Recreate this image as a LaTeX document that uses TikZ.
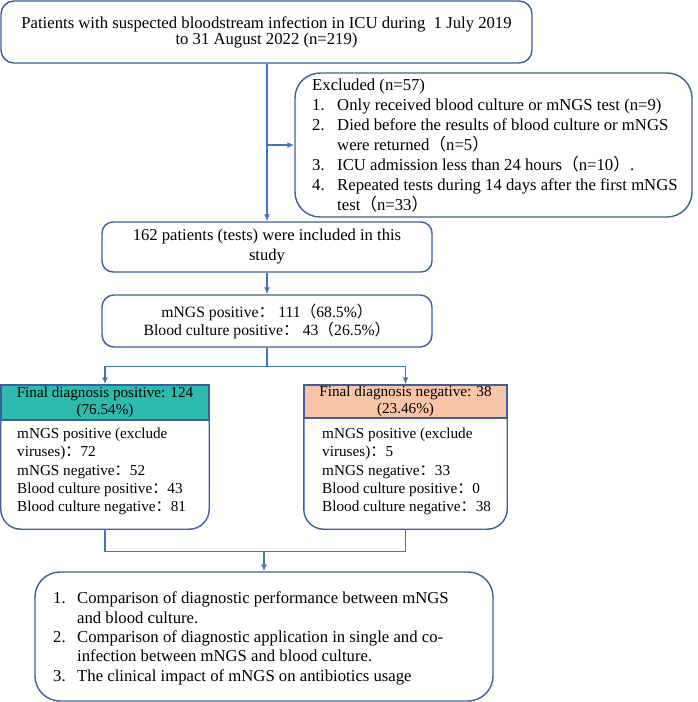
\documentclass[tikz,border=0pt]{standalone}
\usepackage{fontspec}
\setmainfont{Liberation Serif}
\newfontfamily\cjkfont{Noto Sans CJK SC}
\usetikzlibrary{arrows.meta}
\definecolor{boxblue}{HTML}{3F5E9E}
\definecolor{linkblue}{HTML}{4472C4}
\definecolor{tealfill}{HTML}{2DBBAE}
\definecolor{salmonfill}{HTML}{F8C5A8}
\newcommand{\fcol}{{\cjkfont ：}}
\newcommand{\flp}{{\cjkfont （}}
\newcommand{\frp}{{\cjkfont ）}}
\begin{document}
\begin{tikzpicture}[x=1pt,y=-1pt,
  fsz/.style 2 args={font=\fontsize{#1}{#2}\selectfont},
  boxline/.style={draw=boxblue, line width=1.4pt},
  rbox/.style={boxline, rectangle, rounded corners=#1, inner sep=0pt, align=center},
  hdr/.style={boxline, rectangle, inner sep=0pt, align=center, fsz={15.2}{16.5}},
  bodyarea/.style={rectangle, inner sep=0pt},
  txt/.style={anchor=west, align=left, inner sep=0pt},
  link/.style={draw=linkblue, line width=1.4pt},
  arr/.style={link, -{Latex[length=7pt,width=6pt]}}
]
\useasboundingbox (0,0) rectangle (697,702);

% boxes
\node[rbox=13, minimum width=531, minimum height=62, fsz={16.7}{16}] (top) at (266.5,32)
  {Patients with suspected bloodstream infection in ICU during\ \ 1 July 2019\\ to 31 August 2022 (n=219)};

\node[rbox=25, minimum width=397, minimum height=144] (excl) at (493.5,145) {};
\node[txt, fsz={16.7}{20}] (excltxt) at (312,145.5) {Excluded (n=57)\\
\makebox[25pt][l]{1.}Only received blood culture or mNGS test (n=9)\\
\makebox[25pt][l]{2.}Died before the results of blood culture or mNGS\\
\hspace*{25pt}were returned\flp n=5\frp\\
\makebox[25pt][l]{3.}ICU admission less than 24 hours\flp n=10\frp.\\
\makebox[25pt][l]{4.}Repeated tests during 14 days after the first mNGS\\
\hspace*{25pt}test\flp n=33\frp};

\node[rbox=11, minimum width=330, minimum height=50, fsz={16.6}{20}] (inc) at (267,247)
  {162 patients (tests) were included in this\\ study};

\node[rbox=12, minimum width=330, minimum height=52, fsz={15.7}{18}] (res) at (267,321)
  {mNGS positive\fcol\ 111\flp 68.5\%\frp\\ Blood culture positive\fcol\ 43\flp 26.5\%\frp};

% final diagnosis positive
\node[hdr, fill=tealfill, minimum width=208, minimum height=35] (poshead) at (105,402.5)
  {Final diagnosis positive: 124\\ (76.54\%)};
\node[bodyarea, minimum width=208, minimum height=109] (posbody) at (105,474.5) {};
\draw[boxline, rounded corners=20] (posbody.north west) -- (posbody.south west) -- (posbody.south east) -- (posbody.north east);
\node[txt, fsz={15.2}{18.2}] (postxt) at (17,471.5) {mNGS positive (exclude\\ viruses)\fcol 72\\ mNGS negative\fcol 52\\ Blood culture positive\fcol 43\\ Blood culture negative\fcol 81};

% final diagnosis negative
\node[hdr, fill=salmonfill, minimum width=203, minimum height=33] (neghead) at (405.5,401.5)
  {Final diagnosis negative: 38\\ (23.46\%)};
\node[bodyarea, minimum width=203, minimum height=111] (negbody) at (405.5,473.5) {};
\draw[boxline, rounded corners=20] (negbody.north west) -- (negbody.south west) -- (negbody.south east) -- (negbody.north east);
\node[txt, fsz={15.2}{18.2}] (negtxt) at (322,471.5) {mNGS positive (exclude\\ viruses)\fcol 5\\ mNGS negative\fcol 33\\ Blood culture positive\fcol 0\\ Blood culture negative\fcol 38};

% final box
\node[rbox=25, minimum width=458, minimum height=129] (fin) at (264,636.5) {};
\node[txt, fsz={16.7}{19.4}] (fintxt) at (53,638.5) {\makebox[24pt][l]{1.}Comparison of diagnostic performance between mNGS\\
\hspace*{24pt}and blood culture.\\
\makebox[24pt][l]{2.}Comparison of diagnostic application in single and co-\\
\hspace*{24pt}infection between mNGS and blood culture.\\
\makebox[24pt][l]{3.}The clinical impact of mNGS on antibiotics usage};

% connectors
\draw[arr] (top.south -| inc.north) -- (inc.north);
\coordinate (br) at (inc.north |- excl.west);
\draw[arr] (br) -- (excl.west);
\draw[arr] (inc.south) -- (res.north);
\draw[link] (res.south) -- ++(0,19) coordinate (split);
\draw[arr] (split) -| (poshead.north);
\draw[arr] (split) -| (neghead.north);
\draw[link] (posbody.south) -- ++(0,22) coordinate (join) -| (negbody.south);
\draw[arr] (join -| fin.north) -- (fin.north);
\end{tikzpicture}
\end{document}
